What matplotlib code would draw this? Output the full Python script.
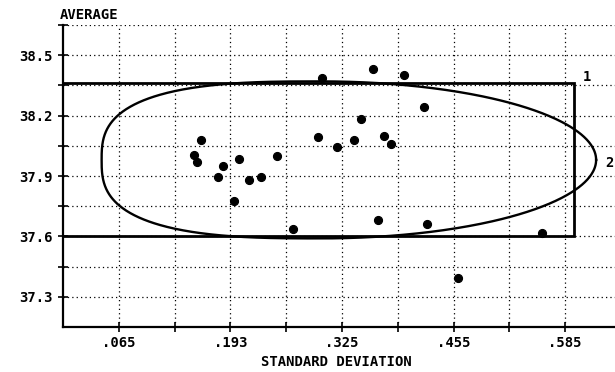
import numpy as np
import matplotlib
matplotlib.use("Agg")
import matplotlib.pyplot as plt

# ---- data ----
std_dev = [0.1603, 0.1525, 0.1563, 0.1867, 0.2053, 0.1801, 0.2163, 0.2303,
           0.1995, 0.2496, 0.2974, 0.3609, 0.3977, 0.4207, 0.3472, 0.3744,
           0.3394, 0.3818, 0.3189, 0.2683, 0.3667, 0.4238, 0.5579, 0.4607,
           0.3017]
average = [38.079, 38.004, 37.968, 37.950, 37.986, 37.897, 37.879, 37.897,
           37.776, 37.998, 38.095, 38.429, 38.402, 38.241, 38.181, 38.097,
           38.077, 38.057, 38.042, 37.636, 37.682, 37.661, 37.616, 37.393,
           38.385]

x_grid = [0.065, 0.13, 0.195, 0.26, 0.325, 0.39, 0.455, 0.52, 0.585]
x_tick_labels = [".065", "", ".193", "", ".325", "", ".455", "", ".585"]
y_grid = [37.3, 37.45, 37.6, 37.75, 37.9, 38.05, 38.2, 38.35, 38.5, 38.65]
y_tick_labels = ["37.3", "", "37.6", "", "37.9", "", "38.2", "", "38.5", ""]

# region 1: rectangle limits
rect_x = [0.0, 0.5956]
rect_y = [37.60, 38.36]
# region 2: egg-shaped closed curve (center, half-widths, exponents)
egg_center = (0.30, 37.98)
egg_half_left, egg_half_right, egg_half_h = 0.255, 0.321, 0.39
egg_exp_left, egg_exp_right = 2.85, 2.0

FONT = "DejaVu Sans Mono"

fig = plt.figure(figsize=(6.15, 3.72), dpi=100)
ax = fig.add_axes([63 / 615, 45 / 372, (615 - 63) / 615, (327 - 25) / 372])

ax.set_xlim(0.0, 0.643)
ax.set_ylim(37.15, 38.65)

ax.set_xticks(x_grid)
ax.set_xticklabels(x_tick_labels)
ax.set_yticks(y_grid)
ax.set_yticklabels(y_tick_labels)
ax.grid(True, color="black", linestyle=(0, (1, 2.5)), linewidth=0.9)

for side in ("top", "right"):
    ax.spines[side].set_visible(False)
for side in ("left", "bottom"):
    ax.spines[side].set_linewidth(1.6)
ax.tick_params(direction="inout", length=7, width=1.2, colors="black")
for lab in ax.get_xticklabels() + ax.get_yticklabels():
    lab.set_fontfamily(FONT)
    lab.set_fontweight("bold")
    lab.set_fontsize(10)
ax.tick_params(axis="y", pad=4)
ax.tick_params(axis="x", pad=3)

# rectangle (region 1)
ax.plot([rect_x[0], rect_x[1], rect_x[1], rect_x[0]],
        [rect_y[1], rect_y[1], rect_y[0], rect_y[0]],
        color="black", linewidth=2.0, solid_joinstyle="miter", clip_on=False)

# egg curve (region 2)
t = np.linspace(0, 2 * np.pi, 721)
c, s = np.cos(t), np.sin(t)
left = c < 0
n = np.where(left, egg_exp_left, egg_exp_right)
a = np.where(left, egg_half_left, egg_half_right)
ex = egg_center[0] + a * np.sign(c) * np.abs(c) ** (2 / n)
ey = egg_center[1] + egg_half_h * np.sign(s) * np.abs(s) ** (2 / n)
ax.plot(ex, ey, color="black", linewidth=1.7)

# data points
ax.plot(std_dev, average, linestyle="none", marker="o", markersize=5.8,
        color="black", markeredgewidth=0.8, zorder=5)

# labels
ax.text(0.605, 38.39, "1", fontfamily=FONT, fontweight="bold", fontsize=10,
        ha="left", va="center")
ax.text(0.632, 37.965, "2", fontfamily=FONT, fontweight="bold", fontsize=10,
        ha="left", va="center")
fig.text(60 / 615, 1 - 15 / 372, "AVERAGE", fontfamily=FONT, fontweight="bold",
         fontsize=10, ha="left", va="center")
fig.text(336 / 615, 1 - 362 / 372, "STANDARD DEVIATION", fontfamily=FONT,
         fontweight="bold", fontsize=10, ha="center", va="center")

fig.savefig("out.png", dpi=100)
